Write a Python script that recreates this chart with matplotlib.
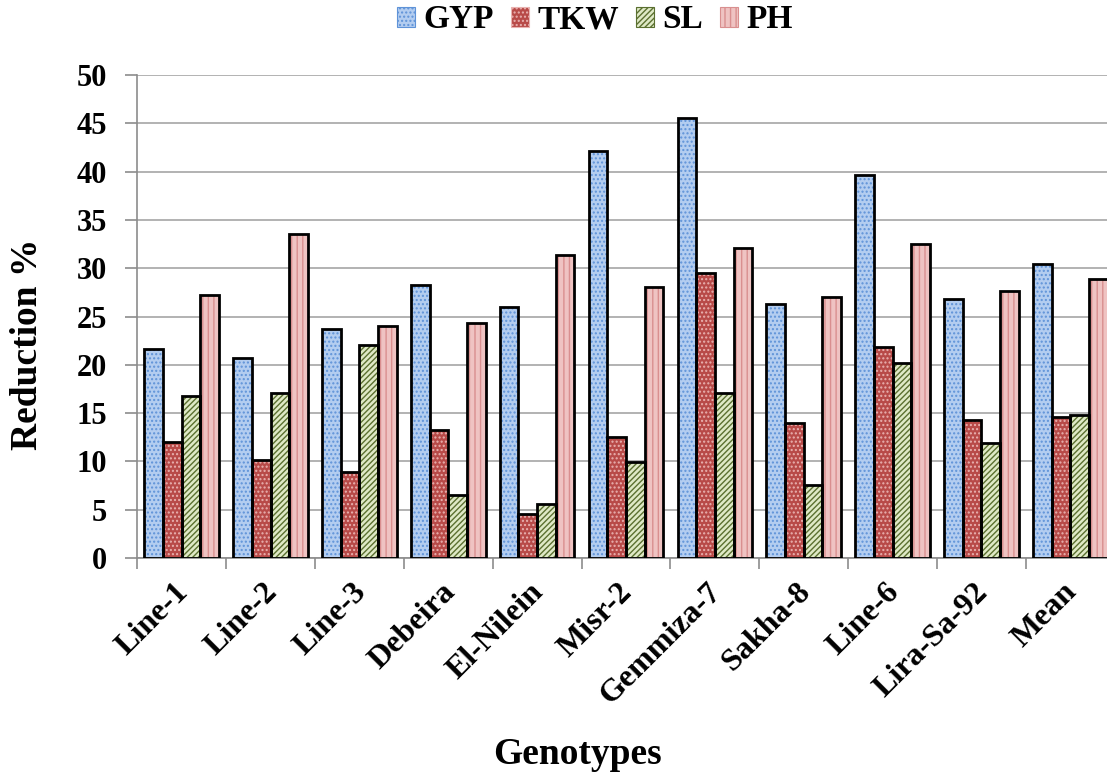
import numpy as np
import matplotlib
matplotlib.use("Agg")
import matplotlib.pyplot as plt
from matplotlib.patches import Patch

plt.rcParams['font.family'] = ['Liberation Serif', 'DejaVu Serif']
plt.rcParams['font.weight'] = 'bold'
plt.rcParams['hatch.linewidth'] = 1.0

# data
genotypes = ['Line-1', 'Line-2', 'Line-3', 'Debeira', 'El-Nilein', 'Misr-2',
             'Gemmiza-7', 'Sakha-8', 'Line-6', 'Lira-Sa-92', 'Mean']
gyp = [21.6, 20.7, 23.7, 28.3, 26.0, 42.1, 45.6, 26.3, 39.7, 26.8, 30.4]
tkw = [12.0, 10.2, 8.9, 13.3, 4.6, 12.5, 29.5, 14.0, 21.9, 14.3, 14.6]
sl = [16.8, 17.1, 22.1, 6.5, 5.6, 9.9, 17.1, 7.6, 20.2, 11.9, 14.8]
ph = [27.2, 33.5, 24.0, 24.3, 31.4, 28.1, 32.1, 27.0, 32.5, 27.6, 28.9]

series = [('GYP', gyp), ('TKW', tkw), ('SL', sl), ('PH', ph)]
# face colour, hatch, hatch colour
styles = {
    'GYP': ('#b3cdf0', '....', '#5f93d8'),
    'TKW': ('#b84a48', '....', '#e9b2b0'),
    'SL': ('#dfe9c6', '//////', '#5b7030'),
    'PH': ('#efc3c2', '|||', '#d98f8f'),
}

fig = plt.figure(figsize=(11.07, 7.74), dpi=100)
ax = fig.add_axes([0.124, 0.279, 0.883, 0.624])

x = np.arange(len(genotypes))
w = 0.21
for i, (name, vals) in enumerate(series):
    fc, hatch, hc = styles[name]
    pos = x + (i - 1.5) * w
    ax.bar(pos, vals, w, color=fc, hatch=hatch, edgecolor=hc, linewidth=0, zorder=2)
    ax.bar(pos, vals, w, fill=False, edgecolor='black', linewidth=2, zorder=3)

ax.set_xlim(-0.5, len(genotypes) - 0.5)
ax.set_ylim(0, 50)
ax.set_yticks(np.arange(0, 51, 5))
ax.yaxis.grid(True, color='#a6a6a6', linewidth=1.2, zorder=0)
ax.set_axisbelow(True)

# labels sit a little left of the group centre, like the original
ax.set_xticks(x - 0.09)
ax.set_xticklabels(genotypes, rotation=45, ha='right', rotation_mode='anchor',
                   fontsize=23, fontweight='bold')
ax.set_xticks(np.arange(-0.5, len(genotypes)), minor=True)
ax.tick_params(axis='x', which='major', length=0, pad=14)
ax.tick_params(axis='x', which='minor', length=8, color='#8c8c8c', width=1.2)
ax.tick_params(axis='y', length=9, color='#8c8c8c', width=1.2, labelsize=22, pad=13)
for lab in ax.get_yticklabels():
    lab.set_fontweight('bold')

for s in ['top', 'right']:
    ax.spines[s].set_visible(False)
for s in ['left', 'bottom']:
    ax.spines[s].set_color('#8c8c8c')
    ax.spines[s].set_linewidth(1.2)

fig.text(28 / 1107, 1 - 344 / 774, 'Reduction %', fontsize=27, fontweight='bold',
         rotation=90, ha='center', va='center')
fig.text(577 / 1107, 1 - 755 / 774, 'Genotypes', fontsize=27, fontweight='bold',
         ha='center', va='center')

handles = []
for name, _ in series:
    fc, hatch, hc = styles[name]
    handles.append(Patch(facecolor=fc, hatch=hatch, edgecolor=hc, label=name))
leg = fig.legend(handles=handles, loc='center', bbox_to_anchor=(595 / 1107, 1 - 20 / 774),
                 ncol=4, frameon=False, handlelength=0.55,
                 handleheight=0.55, handletextpad=0.25, columnspacing=0.5,
                 borderpad=0, prop={'weight': 'bold', 'size': 24})
for p in leg.get_patches():
    p.set_linewidth(0.8)

fig.savefig('out.png', dpi=100)
